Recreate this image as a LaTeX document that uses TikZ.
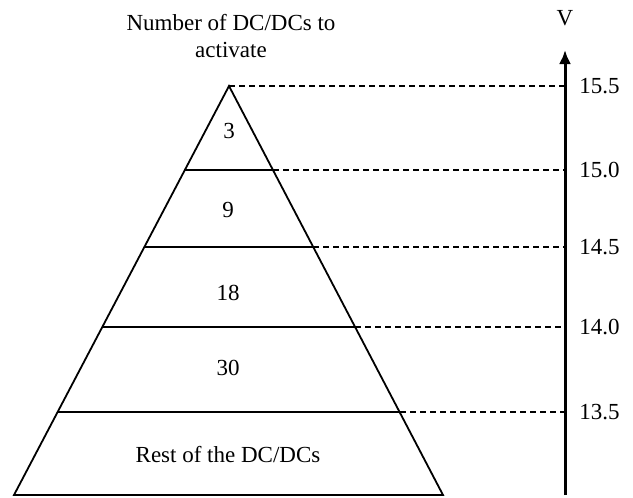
\documentclass[tikz,border=0pt]{standalone}
\usepackage{fontspec}
\setmainfont{Liberation Serif}
\usetikzlibrary{arrows.meta}
\begin{document}
\begin{tikzpicture}[x=0.5pt,y=-0.5pt,
  edge/.style={line width=0.9pt},
  guide/.style={line width=0.7pt,dash pattern=on 3pt off 2pt},
  lbl/.style={font=\fontsize{11.5}{13.5}\selectfont,inner sep=0pt},
  axis/.style={line width=1.5pt,-{Latex[length=7pt,width=6pt]}}]
\useasboundingbox (0,0) rectangle (633,498);
% triangle corners and level points
\coordinate (apex) at (229,86);
\coordinate (bl) at (14,495);
\coordinate (br) at (443,495);
\coordinate (l1) at (185,170); \coordinate (r1) at (273,170);
\coordinate (l2) at (144,247); \coordinate (r2) at (313,247);
\coordinate (l3) at (102,327); \coordinate (r3) at (355,327);
\coordinate (l4) at (58,412);  \coordinate (r4) at (400,412);
% axis
\coordinate (ax0) at (565,495);
\coordinate (ax1) at (565,50);
\coordinate (a5) at (565,86);
\coordinate (a4) at (565,170);
\coordinate (a3) at (565,247);
\coordinate (a2) at (565,327);
\coordinate (a1) at (565,412);
\draw[edge] (apex) -- (bl) -- (br) -- cycle;
\draw[edge] (l1) -- (r1);
\draw[edge] (l2) -- (r2);
\draw[edge] (l3) -- (r3);
\draw[edge] (l4) -- (r4);
\draw[guide] (apex) -- (a5);
\draw[guide] (r1) -- (a4);
\draw[guide] (r2) -- (a3);
\draw[guide] (r3) -- (a2);
\draw[guide] (r4) -- (a1);
\draw[axis] (ax0) -- (ax1);
% texts
\node[lbl,align=center] (title) at (231,36) {Number of DC/DCs to\\activate};
\node[lbl] (v) at (565,18) {V};
\node[lbl,anchor=west] (t5) at (579,86) {15.5};
\node[lbl,anchor=west] (t4) at (579,170) {15.0};
\node[lbl,anchor=west] (t3) at (579,247) {14.5};
\node[lbl,anchor=west] (t2) at (579,327) {14.0};
\node[lbl,anchor=west] (t1) at (579,412) {13.5};
\node[lbl] (n3) at (229,131) {3};
\node[lbl] (n9) at (228,210) {9};
\node[lbl] (n18) at (228,293) {18};
\node[lbl] (n30) at (228,368) {30};
\node[lbl] (nrest) at (228,455) {Rest of the DC/DCs};
\end{tikzpicture}
\end{document}
